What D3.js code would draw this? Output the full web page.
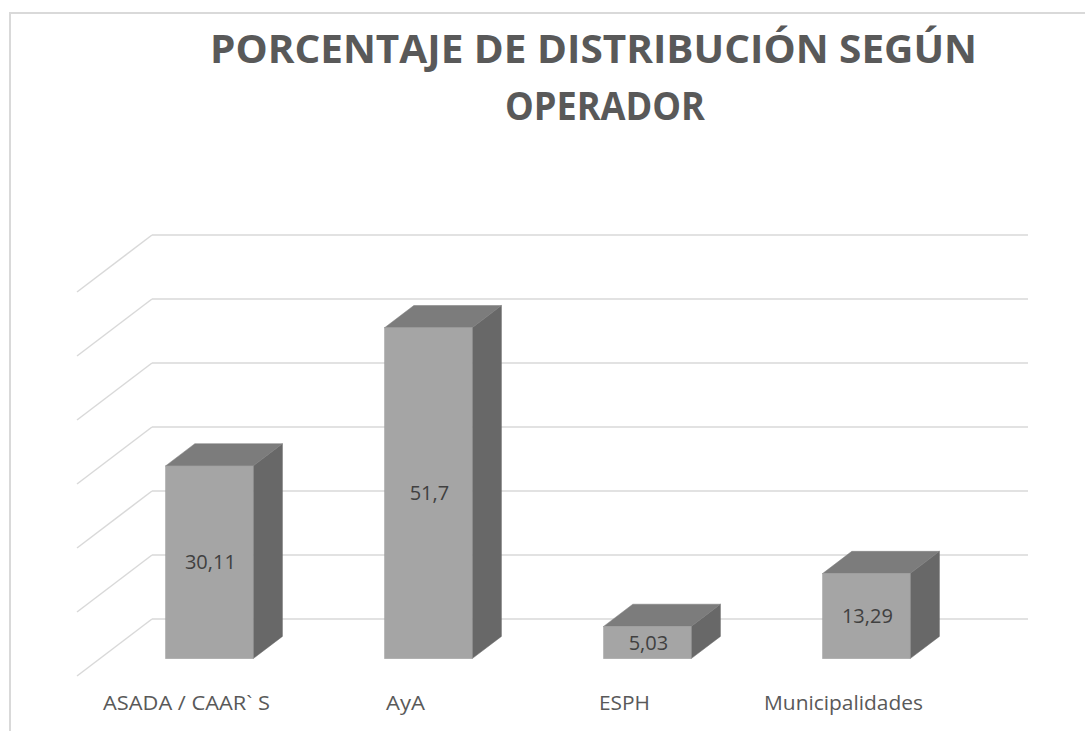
<!DOCTYPE html>
<html>
<head>
<meta charset="utf-8">
<script src="https://cdn.jsdelivr.net/npm/d3@7/dist/d3.min.js"></script>
<style>
  html, body { margin: 0; padding: 0; background: #ffffff; }
  svg { display: block; }
</style>
</head>
<body>
<svg id="chart" width="1085" height="731"></svg>
<script>
// ---- data ----
const categories = ["ASADA / CAAR` S", "AyA", "ESPH", "Municipalidades"];
const values = [30.11, 51.7, 5.03, 13.29];
const valueLabels = ["30,11", "51,7", "5,03", "13,29"];
const yTicks = [0, 10, 20, 30, 40, 50, 60];
const titleLines = ["PORCENTAJE DE DISTRIBUCIÓN SEGÚN", "OPERADOR"];

// ---- layout ----
const W = 1085, H = 731;
const svg = d3.select("#chart");

// frame
svg.append("rect")
  .attr("x", 10).attr("y", 13)
  .attr("width", 1200).attr("height", 900)
  .attr("fill", "#ffffff")
  .attr("stroke", "#d9d9d9").attr("stroke-width", 2);

// oblique projection parameters
const depthDX = 75, depthDY = 57;        // full floor depth offset
const dFront = 0.305, dBack = 0.695;      // bar depth span

const x = d3.scaleBand()
  .domain(categories)
  .range([77, 953])
  .paddingInner(0.6)
  .paddingOuter(0.3);

const xCenter = d3.scaleBand()
  .domain(categories)
  .range([77, 953])
  .padding(0);

const y = d3.scaleLinear().domain([0, 60]).range([676, 292]);

const px = (xv, d) => xv + d * depthDX;
const py = (v, d) => y(v) - d * depthDY;

// gridlines: back wall + side wall diagonals
const grid = svg.append("g");
yTicks.forEach(t => {
  grid.append("line")
    .attr("x1", px(77, 1)).attr("y1", py(t, 1))
    .attr("x2", px(953, 1)).attr("y2", py(t, 1))
    .attr("stroke", "#d9d9d9").attr("stroke-width", 1.5);
  grid.append("line")
    .attr("x1", px(77, 1)).attr("y1", py(t, 1))
    .attr("x2", px(77, 0)).attr("y2", py(t, 0))
    .attr("stroke", "#d9d9d9").attr("stroke-width", 1.5);
});

// bars
const bars = svg.append("g");
categories.forEach((c, i) => {
  const v = values[i];
  const x0 = x(c), x1 = x(c) + x.bandwidth();
  const g = bars.append("g");
  // right side
  g.append("polygon")
    .attr("points", [
      [px(x1, dFront), py(0, dFront)],
      [px(x1, dBack), py(0, dBack)],
      [px(x1, dBack), py(v, dBack)],
      [px(x1, dFront), py(v, dFront)]
    ].map(p => p.join(",")).join(" "))
    .attr("fill", "#686868").attr("stroke", "#686868").attr("stroke-width", 0.5);
  // top
  g.append("polygon")
    .attr("points", [
      [px(x0, dFront), py(v, dFront)],
      [px(x1, dFront), py(v, dFront)],
      [px(x1, dBack), py(v, dBack)],
      [px(x0, dBack), py(v, dBack)]
    ].map(p => p.join(",")).join(" "))
    .attr("fill", "#7c7c7c").attr("stroke", "#7c7c7c").attr("stroke-width", 0.5);
  // front
  g.append("rect")
    .attr("x", px(x0, dFront))
    .attr("y", py(v, dFront))
    .attr("width", x.bandwidth())
    .attr("height", py(0, dFront) - py(v, dFront))
    .attr("fill", "#a5a5a5").attr("stroke", "#9c9c9c").attr("stroke-width", 0.5);
  // value label
  g.append("text")
    .attr("x", px(x0 + x.bandwidth() / 2, dFront) + 1)
    .attr("y", (py(v, dFront) + py(0, dFront)) / 2)
    .attr("dy", "0.36em")
    .attr("text-anchor", "middle")
    .attr("font-family", "'Open Sans', sans-serif")
    .attr("font-size", 20)
    .attr("fill", "#404040")
    .text(valueLabels[i]);
});

// category labels
const labelWidths = [167, 39, 51, 159];
categories.forEach((c, i) => {
  svg.append("text")
    .attr("x", xCenter(c) + xCenter.bandwidth() / 2)
    .attr("y", 710)
    .attr("text-anchor", "middle")
    .attr("font-family", "'Open Sans', sans-serif")
    .attr("font-size", 20)
    .attr("fill", "#595959")
    .attr("textLength", labelWidths[i])
    .attr("lengthAdjust", "spacingAndGlyphs")
    .text(c);
});

// title
svg.append("text")
  .attr("x", 593.5).attr("y", 63)
  .attr("text-anchor", "middle")
  .attr("font-family", "'Open Sans', sans-serif")
  .attr("font-weight", 700)
  .attr("font-size", 39)
  .attr("fill", "#595959")
  .attr("textLength", 767)
  .attr("lengthAdjust", "spacingAndGlyphs")
  .text(titleLines[0]);
svg.append("text")
  .attr("x", 605).attr("y", 120)
  .attr("text-anchor", "middle")
  .attr("font-family", "'Open Sans', sans-serif")
  .attr("font-weight", 700)
  .attr("font-size", 39)
  .attr("fill", "#595959")
  .attr("textLength", 200)
  .attr("lengthAdjust", "spacingAndGlyphs")
  .text(titleLines[1]);
</script>
</body>
</html>
